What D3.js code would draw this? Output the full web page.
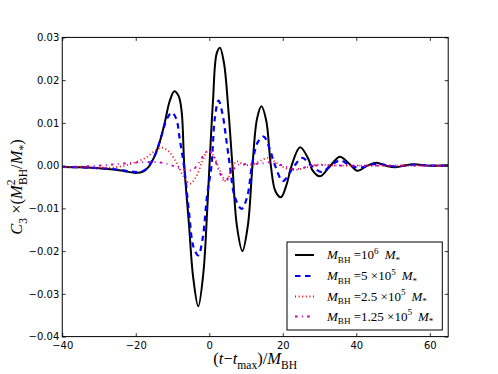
<!DOCTYPE html>
<html>
<head>
<meta charset="utf-8">
<script src="https://cdn.jsdelivr.net/npm/d3@7"></script>
<style>
  html, body { margin: 0; padding: 0; background: #fff; }
  svg { display: block; }
</style>
</head>
<body>
<svg id="chart" width="498" height="374"></svg>
<script>
// ---- data ----
const xTicks = [-40, -20, 0, 20, 40, 60];
const yTicks = [-0.04, -0.03, -0.02, -0.01, 0.00, 0.01, 0.02, 0.03];

const tBlack = [-40,-35,-30,-26,-23,-20,-18,-16.5,-15,-13.5,-12,-10.8,-9.5,-8.3,-7.5,-6.8,-5.5,-4.4,-3.0,-1.6,-0.6,0.05,1.0,2.0,2.9,4.0,5.2,6.3,7.5,9.0,10.5,11.75,13.0,14.2,15.5,16.75,18.0,19.5,21.0,22.4,24.7,27.0,28.0,30.1,32.5,35.5,38.0,40.3,43.0,45.5,48,50.5,53,55.5,60,65];
const vBlack = [-0.0003,-0.0004,-0.0006,-0.0009,-0.0013,-0.0017,-0.0014,-0.0003,0.0020,0.0055,0.0105,0.0150,0.0174,0.0162,0.0125,0.0000,-0.0140,-0.0260,-0.0329,-0.0250,-0.0110,0.0000,0.0150,0.0262,0.0276,0.0240,0.0130,0.0000,-0.0140,-0.0200,-0.0140,0.0000,0.0110,0.0139,0.0105,0.0000,-0.0060,-0.0074,-0.0045,0.0000,0.0043,0.0015,-0.0010,-0.0025,-0.0005,0.0021,0.0005,-0.0012,0.0000,0.0007,0.0000,-0.0004,0.0000,0.0003,0.0000,0.0001];

const tBlue = [-40,-35,-30,-25,-22,-19.5,-17.5,-16,-14.5,-13,-11.5,-10.2,-9,-8,-6.9,-5.5,-4.3,-3.0,-1.8,-0.6,0.6,1.5,2.5,3.5,4.8,5.6,7.0,8.8,10.4,11.6,13.2,14.8,16.4,17.9,20.0,22.0,23.2,25.3,27.8,30.6,33.0,35.6,38,40.6,45.5,50.5,55.5,60,65];
const vBlue = [-0.0003,-0.0004,-0.0006,-0.0009,-0.0013,-0.0015,-0.0010,0.0005,0.0030,0.0070,0.0110,0.0124,0.0110,0.0060,0.0000,-0.0110,-0.0190,-0.0210,-0.0170,-0.0070,0.0000,0.0110,0.0152,0.0125,0.0050,0.0000,-0.0075,-0.0101,-0.0070,0.0000,0.0055,0.0068,0.0040,0.0000,-0.0036,-0.0015,0.0000,0.0018,0.0000,-0.0015,0.0000,0.0012,0.0002,-0.0005,0.0004,-0.0002,0.0002,0.0000,0.0000];

const tRed = [-40,-35,-30,-26,-23,-20,-17,-15,-13,-11,-9,-7,-5.2,-3.5,-2,-0.5,1.0,2.8,4.6,6,7.5,9.5,11.5,14,16,18,20.5,23.3,26,29,33,38,45,55,65];
const vRed = [-0.0003,-0.0004,-0.0005,-0.0004,0.0000,0.0008,0.0020,0.0033,0.0042,0.0033,0.0008,-0.0025,-0.0042,-0.0025,0.0008,0.0033,0.0025,-0.0010,-0.0037,-0.0010,0.0010,0.0002,0.0002,0.0012,0.0018,0.0008,-0.0005,-0.0010,-0.0005,0.0002,0.0001,0.0000,0.0000,0.0000,0.0000];

const tMag = [-40,-35,-30,-26,-22,-18,-14,-11,-8.5,-6,-4.5,-3,-1.5,-0.4,1.0,2.5,4.3,6,8,11,14,17,20,23.5,27,30,35,45,65];
const vMag = [-0.0003,-0.0002,0.0000,0.0003,0.0006,0.0008,0.0008,0.0003,-0.0005,-0.0011,-0.0010,0.0005,0.0025,0.0035,0.0025,-0.0010,-0.0037,-0.0015,0.0002,0.0003,0.0005,0.0008,0.0000,-0.0008,-0.0002,0.0001,0.0000,0.0000,0.0000];

// ---- layout ----
const W = 498, H = 374;
const mL = 62.25, mR = 448.2, mT = 37.4, mB = 336.6;

const svg = d3.select("#chart");
const x = d3.scaleLinear().domain([-40, 65]).range([mL, mR]);
const y = d3.scaleLinear().domain([-0.04, 0.03]).range([mB, mT]);

const zip = (ts, vs) => ts.map((t, i) => [t, vs[i]]);
const series = [
  { data: zip(tBlack, vBlack), color: "#000000", width: 2.0, dash: null },
  { data: zip(tBlue, vBlue), color: "#0000ff", width: 2.2, dash: "5.5,4.5" },
  { data: zip(tRed, vRed), color: "#ff0000", width: 1.8, dash: "1,2.6" },
  { data: zip(tMag, vMag), color: "#bf00bf", width: 1.8, dash: "2.6,4.3,1,4.3" }
];

svg.append("clipPath").attr("id", "clip")
  .append("rect").attr("x", mL).attr("y", mT)
  .attr("width", mR - mL).attr("height", mB - mT);

const line = d3.line()
  .x(d => x(d[0])).y(d => y(d[1]))
  .curve(d3.curveCatmullRom.alpha(0.5));

const g = svg.append("g").attr("clip-path", "url(#clip)");
series.forEach(s => {
  g.append("path")
    .attr("d", line(s.data))
    .attr("fill", "none")
    .attr("stroke", s.color)
    .attr("stroke-width", s.width)
    .attr("stroke-dasharray", s.dash)
    .attr("stroke-linejoin", "round");
});

// ---- axes ----
const tickFont = "DejaVu Sans, sans-serif";
const styleAxis = sel => {
  sel.select(".domain").remove();
  sel.selectAll(".tick line").attr("stroke", "#000").attr("stroke-width", 0.8);
  sel.selectAll(".tick text").attr("font-family", tickFont).attr("font-size", 10).attr("fill", "#000");
};

svg.append("g").attr("transform", `translate(0,${mB})`)
  .call(d3.axisBottom(x).tickValues(xTicks).tickFormat(d3.format("d")).tickSizeInner(-3.5).tickSizeOuter(0).tickPadding(5))
  .call(styleAxis);
svg.append("g").attr("transform", `translate(0,${mT})`)
  .call(d3.axisTop(x).tickValues(xTicks).tickFormat("").tickSizeInner(-3.5).tickSizeOuter(0))
  .call(styleAxis);
svg.append("g").attr("transform", `translate(${mL},0)`)
  .call(d3.axisLeft(y).tickValues(yTicks).tickFormat(d3.format(".2f")).tickSizeInner(-3.5).tickSizeOuter(0).tickPadding(3))
  .call(styleAxis);
svg.append("g").attr("transform", `translate(${mR},0)`)
  .call(d3.axisRight(y).tickValues(yTicks).tickFormat("").tickSizeInner(-3.5).tickSizeOuter(0))
  .call(styleAxis);

svg.append("rect").attr("x", mL).attr("y", mT)
  .attr("width", mR - mL).attr("height", mB - mT)
  .attr("fill", "none").attr("stroke", "#000").attr("stroke-width", 1);

// ---- math-like text helper ----
const serif = "Liberation Serif, DejaVu Serif, serif";
function mathText(parent, segs, size) {
  const t = parent.append("text").attr("font-family", serif).attr("font-size", size).attr("fill", "#000");
  let cur = 0;
  segs.forEach(s => {
    const sp = t.append("tspan").text(s.t);
    const target = s.sub ? size * 0.28 : s.sup ? -size * 0.4 : 0;
    const dy = target - cur;
    if (dy !== 0) sp.attr("dy", dy);
    cur = target;
    if (s.sub || s.sup) sp.attr("font-size", size * 0.7);
    if (s.it) sp.attr("font-style", "italic");
    if (s.dx) sp.attr("dx", s.dx);
  });
  return t;
}

// x label
mathText(svg, [
  { t: "(" }, { t: "t", it: true }, { t: "\u2212" }, { t: "t", it: true },
  { t: "max", sub: true }, { t: ")/" }, { t: "M", it: true }, { t: "BH", sub: true }
], 16.5).attr("x", (mL + mR) / 2).attr("y", 364).attr("text-anchor", "middle");

// y label
mathText(svg, [
  { t: "C", it: true }, { t: "3", sub: true }, { t: " \u00d7(" }, { t: "M", it: true },
  { t: "2", sup: true }, { t: "BH", sub: true, dx: -5.5 }, { t: "/" }, { t: "M", it: true },
  { t: "*", sub: true }, { t: ")" }
], 16.5).attr("text-anchor", "middle")
  .attr("transform", `translate(22,${(mT + mB) / 2}) rotate(-90)`);

// ---- legend ----
const legendLabels = [
  [{ t: "M", it: true }, { t: "BH", sub: true }, { t: " =10" }, { t: "6", sup: true }, { t: "M", it: true, dx: 6 }, { t: "*", sub: true }],
  [{ t: "M", it: true }, { t: "BH", sub: true }, { t: " =5 \u00d710" }, { t: "5", sup: true }, { t: "M", it: true, dx: 6 }, { t: "*", sub: true }],
  [{ t: "M", it: true }, { t: "BH", sub: true }, { t: " =2.5 \u00d710" }, { t: "5", sup: true }, { t: "M", it: true, dx: 6 }, { t: "*", sub: true }],
  [{ t: "M", it: true }, { t: "BH", sub: true }, { t: " =1.25 \u00d710" }, { t: "5", sup: true }, { t: "M", it: true, dx: 6 }, { t: "*", sub: true }]
];
const lg = svg.append("g");
lg.append("rect").attr("x", 287).attr("y", 242).attr("width", 155.3).attr("height", 88)
  .attr("fill", "#fff").attr("stroke", "#000").attr("stroke-width", 1);
const rowY = [255, 276, 296.5, 316.5];
series.forEach((s, i) => {
  lg.append("line").attr("x1", 295).attr("x2", 314).attr("y1", rowY[i]).attr("y2", rowY[i])
    .attr("stroke", s.color).attr("stroke-width", s.width).attr("stroke-dasharray", s.dash);
  mathText(lg, legendLabels[i], 13).attr("x", 327).attr("y", rowY[i] + 4);
});
</script>
</body>
</html>
